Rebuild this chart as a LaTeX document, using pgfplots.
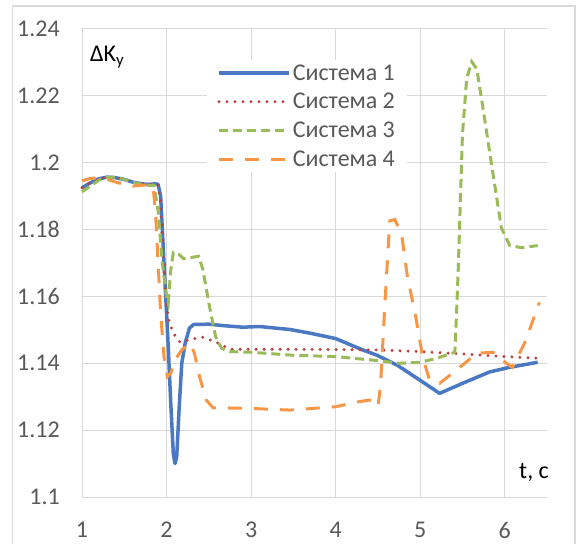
\documentclass[border=0pt]{standalone}
\usepackage{fontspec}
\setmainfont{Carlito}
\usepackage{pgfplots}
\pgfplotsset{compat=1.18}
\definecolor{cblue}{HTML}{4A78C2}
\definecolor{cred}{HTML}{B8423F}
\definecolor{cgreen}{HTML}{9BBB59}
\definecolor{corange}{HTML}{F79646}
\definecolor{gridc}{HTML}{D9D9D9}
\definecolor{tickc}{HTML}{595959}
\begin{document}
\begin{tikzpicture}[x=1pt,y=1pt]
\useasboundingbox (0,0) rectangle (577,544);
\draw[color=gridc, line width=1.5pt] (12.6,0) -- (12.6,538) -- (575,538) -- (575,0);
\begin{axis}[
  at={(82pt,47pt)}, anchor=south west,
  scale only axis, width=465pt, height=468pt,
  xmin=1, xmax=6.5, ymin=1.1, ymax=1.24,
  xtick={1,2,3,4,5,6},
  ytick={1.1,1.12,1.14,1.16,1.18,1.2,1.22,1.24},
  yticklabels={1.1,1.12,1.14,1.16,1.18,1.2,1.22,1.24},
  xticklabels={1,2,3,4,5,6},
  major tick length=0pt,
  grid=major,
  major grid style={color=gridc, line width=1pt},
  axis line style={draw=none},
  tick label style={font=\fontsize{24}{28}\selectfont, text=tickc, inner sep=0pt},
  xticklabel shift=25pt,
  yticklabel shift=22pt,
  legend style={at={(rel axis cs:0.269,0.934)}, anchor=north west, draw=none, fill=white,
    inner xsep=10pt, inner ysep=2.5pt, row sep=7.6pt,
    font=\fontsize{24}{28}\selectfont, text=tickc},
  legend cell align=left,
  legend image code/.code={\draw[#1] (0pt,0pt) -- (70pt,0pt);},
  clip=false,
]
\addplot[color=cblue, line width=3.5pt, line join=round] coordinates {
(1.0,1.1925) (1.1,1.194) (1.2,1.1952) (1.3,1.1957) (1.4,1.1955) (1.5,1.195) (1.6,1.1942) (1.7,1.1937) (1.8,1.1935) (1.87,1.1937) (1.9,1.1935) (1.93,1.19) (1.96,1.175) (1.99,1.16) (2.02,1.145) (2.05,1.128) (2.08,1.113) (2.1,1.110) (2.12,1.112) (2.15,1.127) (2.18,1.140) (2.22,1.146) (2.27,1.1505) (2.32,1.1516) (2.5,1.1517) (2.7,1.1512) (2.9,1.1508) (3.1,1.151) (3.46,1.1501) (3.7,1.149) (4.0,1.1474) (4.31,1.1441) (4.49,1.1424) (4.73,1.1394) (5.0,1.1349) (5.23,1.1310) (5.5,1.134) (5.82,1.1374) (6.06,1.1388) (6.39,1.1403)
};
\addlegendentry{Система 1}
\addplot[color=cred, line width=3.3pt, line cap=round, dash pattern=on 0pt off 8pt] coordinates {
(1.0,1.1925) (1.1,1.194) (1.2,1.1952) (1.3,1.1957) (1.4,1.1955) (1.5,1.195) (1.6,1.1942) (1.7,1.1937) (1.8,1.1935) (1.87,1.1937) (1.9,1.1935) (1.93,1.188) (1.96,1.172) (1.99,1.160) (2.02,1.1534) (2.08,1.1490) (2.16,1.1463) (2.3,1.1472) (2.43,1.1478) (2.59,1.1463) (2.75,1.1442) (3.0,1.1442) (3.5,1.1442) (4.0,1.1441) (4.5,1.1440) (5.0,1.1435) (5.5,1.1428) (6.0,1.1420) (6.4,1.1415)
};
\addlegendentry{Система 2}
\addplot[color=cgreen, line width=3pt, dash pattern=on 9pt off 5pt] coordinates {
(1.0,1.1913) (1.1,1.193) (1.2,1.1948) (1.3,1.1956) (1.4,1.1957) (1.5,1.195) (1.6,1.1942) (1.7,1.1935) (1.8,1.1932) (1.85,1.1933) (1.9,1.1857) (1.95,1.170) (2.0,1.160) (2.02,1.158) (2.05,1.168) (2.08,1.1731) (2.15,1.1725) (2.2,1.1713) (2.3,1.1717) (2.38,1.172) (2.43,1.168) (2.5,1.158) (2.58,1.148) (2.65,1.1445) (2.75,1.1435) (3.0,1.1433) (3.5,1.1424) (4.0,1.142) (4.5,1.1408) (4.75,1.1400) (5.0,1.1403) (5.2,1.1415) (5.3,1.1424) (5.41,1.1433) (5.43,1.155) (5.45,1.168) (5.5,1.2085) (5.55,1.2252) (5.61,1.2302) (5.67,1.228) (5.73,1.2184) (5.85,1.1985) (5.96,1.1806) (6.06,1.1752) (6.2,1.1746) (6.39,1.1752)
};
\addlegendentry{Система 3}
\addplot[color=corange, line width=3pt, dash pattern=on 14pt off 12pt] coordinates {
(1.0,1.1946) (1.1,1.1953) (1.2,1.1955) (1.3,1.195) (1.4,1.1942) (1.5,1.1935) (1.6,1.193) (1.7,1.1932) (1.8,1.1935) (1.84,1.193) (1.87,1.185) (1.9,1.17) (1.93,1.155) (1.97,1.142) (2.01,1.136) (2.05,1.137) (2.1,1.141) (2.18,1.144) (2.28,1.146) (2.33,1.143) (2.39,1.136) (2.47,1.129) (2.55,1.1267) (2.8,1.1266) (3.0,1.1265) (3.46,1.126) (4.0,1.127) (4.25,1.1284) (4.4,1.129) (4.5,1.127) (4.53,1.133) (4.59,1.161) (4.64,1.1826) (4.70,1.183) (4.78,1.1787) (4.85,1.1657) (4.94,1.155) (5.03,1.1418) (5.11,1.135) (5.23,1.134) (5.43,1.138) (5.67,1.143) (5.86,1.1433) (6.02,1.140) (6.09,1.1388) (6.24,1.1463) (6.41,1.1582)
};
\addlegendentry{Система 4}
\end{axis}
\node[anchor=base west, inner sep=0pt, font=\fontsize{24}{28}\selectfont] at (90,482) {ΔK\textsubscript{y}};
\node[anchor=base west, inner sep=0pt, font=\fontsize{24}{28}\selectfont] at (519,66) {t, c};
\end{tikzpicture}
\end{document}
